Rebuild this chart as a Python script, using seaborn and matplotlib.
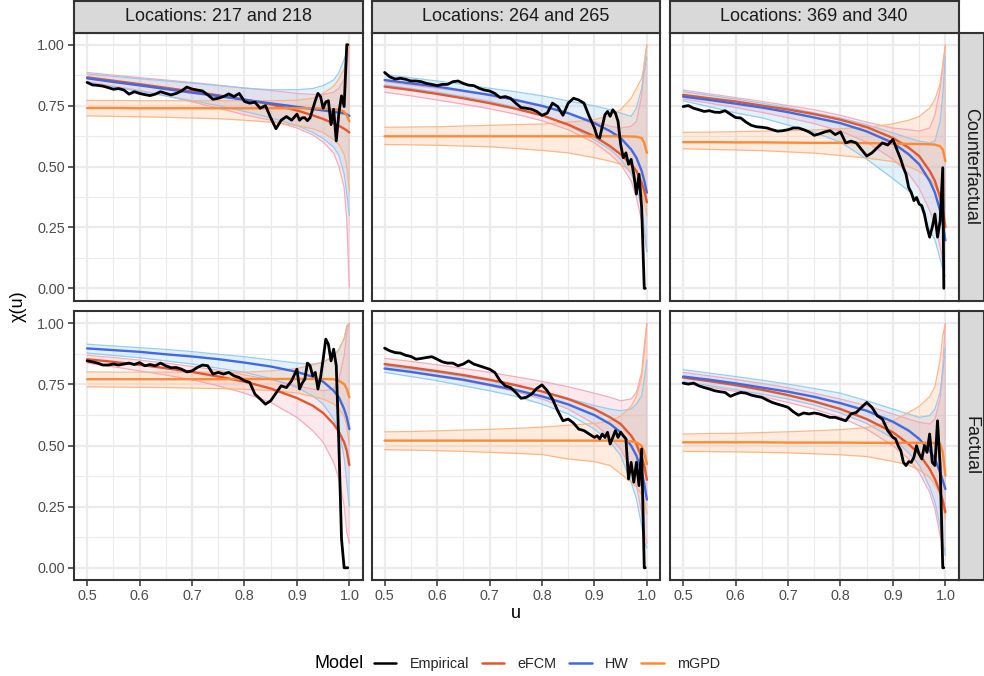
import numpy as np
import pandas as pd
import matplotlib
matplotlib.use("Agg")
import matplotlib.pyplot as plt
from matplotlib.lines import Line2D
import seaborn as sns

# ---------------- data ----------------
U_MODEL = [0.50, 0.55, 0.60, 0.65, 0.70, 0.75, 0.80, 0.85, 0.90, 0.93, 0.95,
           0.97, 0.98, 0.99, 0.995, 1.00]
U_EMP = [0.50, 0.51, 0.52, 0.53, 0.54, 0.55, 0.56, 0.57, 0.58, 0.59,
         0.60, 0.61, 0.62, 0.63, 0.64, 0.65, 0.66, 0.67, 0.68, 0.69,
         0.70, 0.71, 0.72, 0.73, 0.74, 0.75, 0.76, 0.77, 0.78, 0.79,
         0.80, 0.81, 0.82, 0.83, 0.84, 0.85, 0.86, 0.87, 0.88, 0.89,
         0.90, 0.905, 0.91, 0.915, 0.92, 0.925, 0.93, 0.935, 0.94, 0.945,
         0.95, 0.955, 0.96, 0.965, 0.97, 0.975, 0.98, 0.985, 0.99, 0.995, 0.997]

COL_LABELS = ["Locations: 217 and 218", "Locations: 264 and 265", "Locations: 369 and 340"]
ROW_LABELS = ["Counterfactual", "Factual"]
MODELS = ["Empirical", "eFCM", "HW", "mGPD"]
X_TICKS = [0.5, 0.6, 0.7, 0.8, 0.9, 1.0]
X_TICK_LABELS = ["0.5", "0.6", "0.7", "0.8", "0.9", "1.0"]
Y_TICKS = [0.0, 0.25, 0.5, 0.75, 1.0]
Y_TICK_LABELS = ["0.00", "0.25", "0.50", "0.75", "1.00"]

# --- Counterfactual, 217/218
EMP_CF_217 = [0.845, 0.835, 0.833, 0.830, 0.824, 0.817, 0.820, 0.814, 0.797, 0.807,
              0.800, 0.795, 0.791, 0.797, 0.807, 0.800, 0.794, 0.800, 0.810, 0.826,
              0.818, 0.814, 0.810, 0.794, 0.776, 0.780, 0.787, 0.798, 0.787, 0.800,
              0.767, 0.760, 0.764, 0.739, 0.750, 0.700, 0.655, 0.690, 0.705, 0.690,
              0.715, 0.690, 0.700, 0.700, 0.688, 0.700, 0.735, 0.770, 0.800, 0.787,
              0.739, 0.765, 0.770, 0.672, 0.735, 0.605, 0.720, 0.790, 0.746, 1.000, 1.000]
EFCM_CF_217 = [0.866, 0.852, 0.838, 0.823, 0.808, 0.792, 0.775, 0.755, 0.730, 0.710, 0.695, 0.677, 0.667, 0.655, 0.648, 0.640]
EFCM_CF_217_LO = [0.848, 0.830, 0.812, 0.790, 0.765, 0.740, 0.712, 0.690, 0.658, 0.630, 0.600, 0.556, 0.500, 0.414, 0.280, 0.000]
EFCM_CF_217_HI = [0.886, 0.875, 0.865, 0.855, 0.845, 0.834, 0.822, 0.812, 0.800, 0.796, 0.795, 0.805, 0.820, 0.860, 0.920, 1.000]
HW_CF_217 = [0.862, 0.847, 0.833, 0.818, 0.803, 0.789, 0.774, 0.759, 0.745, 0.736, 0.730, 0.724, 0.721, 0.718, 0.714, 0.708]
HW_CF_217_LO = [0.843, 0.826, 0.808, 0.790, 0.770, 0.750, 0.726, 0.700, 0.668, 0.640, 0.615, 0.580, 0.545, 0.470, 0.390, 0.300]
HW_CF_217_HI = [0.880, 0.870, 0.860, 0.851, 0.842, 0.832, 0.822, 0.815, 0.815, 0.820, 0.832, 0.855, 0.885, 0.940, 0.970, 1.000]
MGPD_CF_217 = [0.740, 0.740, 0.739, 0.739, 0.739, 0.739, 0.739, 0.739, 0.739, 0.739, 0.738, 0.735, 0.733, 0.725, 0.710, 0.685]
MGPD_CF_217_LO = [0.708, 0.706, 0.704, 0.702, 0.699, 0.696, 0.690, 0.682, 0.668, 0.655, 0.640, 0.610, 0.590, 0.550, 0.500, 0.400]
MGPD_CF_217_HI = [0.771, 0.771, 0.770, 0.770, 0.770, 0.770, 0.770, 0.770, 0.772, 0.780, 0.800, 0.830, 0.860, 0.900, 0.950, 1.000]

# --- Counterfactual, 264/265
EMP_CF_264 = [0.886, 0.868, 0.859, 0.862, 0.858, 0.851, 0.851, 0.848, 0.841, 0.837,
              0.832, 0.837, 0.837, 0.848, 0.851, 0.841, 0.834, 0.832, 0.821, 0.814,
              0.810, 0.800, 0.783, 0.787, 0.780, 0.760, 0.742, 0.739, 0.735, 0.726,
              0.710, 0.719, 0.760, 0.746, 0.710, 0.760, 0.780, 0.773, 0.760, 0.706,
              0.658, 0.624, 0.617, 0.665, 0.712, 0.726, 0.706, 0.733, 0.719, 0.685,
              0.590, 0.536, 0.556, 0.509, 0.529, 0.468, 0.387, 0.468, 0.332, 0.000, 0.000]
EFCM_CF_264 = [0.828, 0.814, 0.798, 0.780, 0.760, 0.737, 0.710, 0.672, 0.624, 0.583, 0.550, 0.509, 0.482, 0.434, 0.400, 0.353]
EFCM_CF_264_LO = [0.805, 0.790, 0.773, 0.756, 0.737, 0.715, 0.688, 0.651, 0.597, 0.550, 0.509, 0.441, 0.373, 0.278, 0.224, 0.150]
EFCM_CF_264_HI = [0.848, 0.834, 0.821, 0.807, 0.791, 0.771, 0.746, 0.719, 0.685, 0.665, 0.658, 0.665, 0.685, 0.790, 0.930, 1.000]
HW_CF_264 = [0.855, 0.841, 0.828, 0.811, 0.794, 0.773, 0.749, 0.719, 0.678, 0.645, 0.617, 0.570, 0.536, 0.482, 0.441, 0.393]
HW_CF_264_LO = [0.835, 0.820, 0.805, 0.787, 0.768, 0.742, 0.710, 0.670, 0.610, 0.570, 0.530, 0.470, 0.420, 0.330, 0.250, 0.150]
HW_CF_264_HI = [0.878, 0.864, 0.851, 0.837, 0.821, 0.807, 0.790, 0.769, 0.749, 0.733, 0.719, 0.706, 0.740, 0.820, 0.890, 0.950]
MGPD_CF_264 = [0.624, 0.624, 0.624, 0.624, 0.624, 0.624, 0.624, 0.624, 0.624, 0.624, 0.624, 0.623, 0.622, 0.617, 0.597, 0.556]
MGPD_CF_264_LO = [0.590, 0.589, 0.587, 0.584, 0.581, 0.574, 0.566, 0.556, 0.536, 0.522, 0.509, 0.480, 0.450, 0.400, 0.350, 0.300]
MGPD_CF_264_HI = [0.661, 0.662, 0.663, 0.666, 0.669, 0.672, 0.674, 0.682, 0.692, 0.710, 0.733, 0.780, 0.821, 0.862, 0.916, 1.000]

# --- Counterfactual, 369/340
EMP_CF_369 = [0.746, 0.750, 0.739, 0.733, 0.726, 0.729, 0.723, 0.722, 0.729, 0.715,
              0.701, 0.699, 0.682, 0.669, 0.663, 0.661, 0.658, 0.651, 0.645, 0.647,
              0.651, 0.658, 0.658, 0.651, 0.642, 0.628, 0.634, 0.642, 0.647, 0.631,
              0.642, 0.597, 0.604, 0.597, 0.570, 0.543, 0.556, 0.577, 0.597, 0.588,
              0.611, 0.583, 0.556, 0.529, 0.495, 0.468, 0.414, 0.393, 0.360, 0.373,
              0.346, 0.339, 0.305, 0.251, 0.210, 0.251, 0.305, 0.210, 0.278, 0.495, 0.000]
EFCM_CF_369 = [0.794, 0.780, 0.767, 0.750, 0.734, 0.715, 0.692, 0.662, 0.617, 0.577, 0.543, 0.482, 0.441, 0.373, 0.319, 0.251]
EFCM_CF_369_LO = [0.777, 0.760, 0.742, 0.722, 0.700, 0.676, 0.645, 0.600, 0.530, 0.470, 0.410, 0.320, 0.260, 0.170, 0.110, 0.080]
EFCM_CF_369_HI = [0.814, 0.798, 0.783, 0.767, 0.750, 0.733, 0.710, 0.682, 0.658, 0.651, 0.645, 0.658, 0.712, 0.820, 0.900, 1.000]
HW_CF_369 = [0.787, 0.773, 0.758, 0.742, 0.723, 0.701, 0.678, 0.644, 0.597, 0.550, 0.509, 0.441, 0.393, 0.319, 0.265, 0.197]
HW_CF_369_LO = [0.770, 0.745, 0.720, 0.700, 0.670, 0.640, 0.600, 0.530, 0.450, 0.400, 0.350, 0.240, 0.200, 0.120, 0.080, 0.050]
HW_CF_369_HI = [0.807, 0.792, 0.777, 0.760, 0.742, 0.720, 0.699, 0.672, 0.638, 0.617, 0.604, 0.597, 0.604, 0.685, 0.794, 0.950]
MGPD_CF_369 = [0.600, 0.600, 0.599, 0.599, 0.598, 0.597, 0.597, 0.596, 0.594, 0.593, 0.592, 0.591, 0.590, 0.583, 0.570, 0.522]
MGPD_CF_369_LO = [0.573, 0.570, 0.568, 0.565, 0.560, 0.555, 0.545, 0.535, 0.520, 0.500, 0.480, 0.450, 0.420, 0.380, 0.330, 0.280]
MGPD_CF_369_HI = [0.640, 0.641, 0.643, 0.645, 0.647, 0.650, 0.655, 0.660, 0.675, 0.690, 0.705, 0.740, 0.775, 0.840, 0.920, 1.000]

# --- Factual, 217/218
EMP_F_217 = [0.846, 0.842, 0.837, 0.829, 0.829, 0.833, 0.829, 0.833, 0.837, 0.831,
             0.839, 0.826, 0.831, 0.826, 0.837, 0.826, 0.818, 0.819, 0.812, 0.801,
             0.805, 0.819, 0.829, 0.826, 0.792, 0.799, 0.792, 0.799, 0.785, 0.778,
             0.765, 0.758, 0.710, 0.690, 0.669, 0.683, 0.714, 0.744, 0.737, 0.765,
             0.812, 0.731, 0.755, 0.771, 0.837, 0.826, 0.785, 0.799, 0.731, 0.778,
             0.853, 0.935, 0.914, 0.846, 0.894, 0.826, 0.500, 0.118, 0.000, 0.000, 0.000]
EFCM_F_217 = [0.853, 0.842, 0.830, 0.816, 0.801, 0.782, 0.761, 0.733, 0.694, 0.663, 0.633, 0.588, 0.556, 0.513, 0.479, 0.420]
EFCM_F_217_LO = [0.837, 0.822, 0.805, 0.788, 0.769, 0.744, 0.714, 0.676, 0.615, 0.561, 0.513, 0.431, 0.363, 0.254, 0.146, 0.100]
EFCM_F_217_HI = [0.869, 0.860, 0.849, 0.837, 0.823, 0.808, 0.789, 0.769, 0.744, 0.731, 0.724, 0.731, 0.771, 0.867, 0.962, 1.000]
HW_F_217 = [0.897, 0.890, 0.883, 0.873, 0.864, 0.853, 0.839, 0.823, 0.801, 0.781, 0.761, 0.724, 0.697, 0.649, 0.615, 0.567]
HW_F_217_LO = [0.878, 0.868, 0.859, 0.846, 0.833, 0.816, 0.799, 0.774, 0.737, 0.703, 0.669, 0.608, 0.567, 0.450, 0.350, 0.250]
HW_F_217_HI = [0.914, 0.907, 0.900, 0.893, 0.884, 0.873, 0.863, 0.850, 0.837, 0.833, 0.839, 0.867, 0.894, 0.935, 0.990, 1.000]
MGPD_F_217 = [0.771, 0.771, 0.771, 0.771, 0.771, 0.771, 0.772, 0.772, 0.772, 0.772, 0.772, 0.771, 0.765, 0.751, 0.731, 0.697]
MGPD_F_217_LO = [0.740, 0.739, 0.738, 0.737, 0.735, 0.733, 0.730, 0.725, 0.715, 0.700, 0.690, 0.670, 0.650, 0.620, 0.580, 0.500]
MGPD_F_217_HI = [0.801, 0.800, 0.800, 0.800, 0.800, 0.800, 0.800, 0.805, 0.815, 0.830, 0.840, 0.865, 0.890, 0.940, 0.980, 1.000]

# --- Factual, 264/265
EMP_F_264 = [0.898, 0.887, 0.880, 0.878, 0.869, 0.864, 0.853, 0.856, 0.860, 0.863,
             0.853, 0.842, 0.837, 0.837, 0.826, 0.833, 0.846, 0.833, 0.826, 0.819,
             0.812, 0.799, 0.765, 0.744, 0.737, 0.717, 0.693, 0.697, 0.710, 0.733,
             0.748, 0.724, 0.690, 0.642, 0.601, 0.608, 0.592, 0.567, 0.561, 0.547,
             0.533, 0.540, 0.527, 0.547, 0.533, 0.554, 0.506, 0.533, 0.561, 0.533,
             0.554, 0.540, 0.527, 0.363, 0.431, 0.350, 0.431, 0.336, 0.486, 0.000, 0.000]
EFCM_F_264 = [0.833, 0.819, 0.804, 0.788, 0.769, 0.747, 0.721, 0.690, 0.649, 0.615, 0.588, 0.540, 0.506, 0.452, 0.418, 0.360]
EFCM_F_264_LO = [0.812, 0.799, 0.782, 0.765, 0.744, 0.720, 0.690, 0.649, 0.588, 0.533, 0.486, 0.404, 0.336, 0.227, 0.146, 0.100]
EFCM_F_264_HI = [0.856, 0.844, 0.830, 0.815, 0.799, 0.781, 0.762, 0.740, 0.714, 0.697, 0.683, 0.690, 0.717, 0.799, 0.907, 1.000]
HW_F_264 = [0.815, 0.801, 0.785, 0.769, 0.748, 0.727, 0.701, 0.668, 0.624, 0.588, 0.554, 0.499, 0.459, 0.390, 0.343, 0.279]
HW_F_264_LO = [0.799, 0.782, 0.765, 0.744, 0.724, 0.701, 0.669, 0.629, 0.567, 0.513, 0.459, 0.350, 0.282, 0.173, 0.105, 0.080]
HW_F_264_HI = [0.826, 0.812, 0.799, 0.782, 0.765, 0.744, 0.722, 0.693, 0.663, 0.649, 0.642, 0.649, 0.669, 0.703, 0.771, 0.850]
MGPD_F_264 = [0.520, 0.520, 0.520, 0.520, 0.520, 0.520, 0.520, 0.520, 0.520, 0.520, 0.519, 0.517, 0.513, 0.499, 0.472, 0.424]
MGPD_F_264_LO = [0.483, 0.481, 0.479, 0.476, 0.472, 0.468, 0.463, 0.445, 0.434, 0.418, 0.384, 0.350, 0.330, 0.300, 0.270, 0.220]
MGPD_F_264_HI = [0.556, 0.557, 0.560, 0.563, 0.566, 0.570, 0.575, 0.583, 0.590, 0.600, 0.620, 0.660, 0.700, 0.780, 0.880, 1.000]

# --- Factual, 369/340
EMP_F_369 = [0.755, 0.751, 0.755, 0.744, 0.737, 0.731, 0.724, 0.720, 0.717, 0.701,
             0.710, 0.717, 0.714, 0.706, 0.701, 0.697, 0.686, 0.676, 0.669, 0.663,
             0.656, 0.638, 0.624, 0.633, 0.629, 0.633, 0.629, 0.622, 0.615, 0.615,
             0.608, 0.601, 0.629, 0.635, 0.656, 0.676, 0.656, 0.622, 0.608, 0.561,
             0.533, 0.527, 0.499, 0.479, 0.431, 0.418, 0.434, 0.431, 0.452, 0.499,
             0.465, 0.445, 0.499, 0.472, 0.547, 0.431, 0.418, 0.601, 0.418, 0.000, 0.000]
EFCM_F_369 = [0.778, 0.763, 0.747, 0.728, 0.706, 0.680, 0.649, 0.608, 0.554, 0.506, 0.465, 0.404, 0.363, 0.309, 0.275, 0.227]
EFCM_F_369_LO = [0.755, 0.739, 0.721, 0.701, 0.676, 0.649, 0.615, 0.567, 0.499, 0.445, 0.390, 0.309, 0.241, 0.132, 0.091, 0.070]
EFCM_F_369_HI = [0.799, 0.785, 0.770, 0.754, 0.736, 0.714, 0.690, 0.663, 0.629, 0.608, 0.595, 0.588, 0.608, 0.690, 0.826, 1.000]
HW_F_369 = [0.782, 0.769, 0.754, 0.737, 0.720, 0.699, 0.673, 0.642, 0.597, 0.561, 0.527, 0.479, 0.445, 0.390, 0.356, 0.322]
HW_F_369_LO = [0.760, 0.745, 0.728, 0.710, 0.690, 0.665, 0.633, 0.590, 0.530, 0.470, 0.420, 0.330, 0.270, 0.170, 0.100, 0.050]
HW_F_369_HI = [0.810, 0.796, 0.782, 0.767, 0.751, 0.733, 0.714, 0.683, 0.649, 0.629, 0.615, 0.622, 0.649, 0.717, 0.799, 0.900]
MGPD_F_369 = [0.513, 0.513, 0.513, 0.513, 0.512, 0.512, 0.512, 0.511, 0.511, 0.511, 0.511, 0.511, 0.510, 0.506, 0.472, 0.377]
MGPD_F_369_LO = [0.476, 0.475, 0.474, 0.472, 0.470, 0.466, 0.462, 0.455, 0.435, 0.420, 0.400, 0.370, 0.340, 0.300, 0.260, 0.200]
MGPD_F_369_HI = [0.547, 0.549, 0.550, 0.553, 0.556, 0.560, 0.565, 0.573, 0.600, 0.635, 0.660, 0.700, 0.740, 0.850, 0.950, 1.000]

PANELS = [
    [dict(emp=EMP_CF_217, eFCM=(EFCM_CF_217, EFCM_CF_217_LO, EFCM_CF_217_HI),
          HW=(HW_CF_217, HW_CF_217_LO, HW_CF_217_HI), mGPD=(MGPD_CF_217, MGPD_CF_217_LO, MGPD_CF_217_HI)),
     dict(emp=EMP_CF_264, eFCM=(EFCM_CF_264, EFCM_CF_264_LO, EFCM_CF_264_HI),
          HW=(HW_CF_264, HW_CF_264_LO, HW_CF_264_HI), mGPD=(MGPD_CF_264, MGPD_CF_264_LO, MGPD_CF_264_HI)),
     dict(emp=EMP_CF_369, eFCM=(EFCM_CF_369, EFCM_CF_369_LO, EFCM_CF_369_HI),
          HW=(HW_CF_369, HW_CF_369_LO, HW_CF_369_HI), mGPD=(MGPD_CF_369, MGPD_CF_369_LO, MGPD_CF_369_HI))],
    [dict(emp=EMP_F_217, eFCM=(EFCM_F_217, EFCM_F_217_LO, EFCM_F_217_HI),
          HW=(HW_F_217, HW_F_217_LO, HW_F_217_HI), mGPD=(MGPD_F_217, MGPD_F_217_LO, MGPD_F_217_HI)),
     dict(emp=EMP_F_264, eFCM=(EFCM_F_264, EFCM_F_264_LO, EFCM_F_264_HI),
          HW=(HW_F_264, HW_F_264_LO, HW_F_264_HI), mGPD=(MGPD_F_264, MGPD_F_264_LO, MGPD_F_264_HI)),
     dict(emp=EMP_F_369, eFCM=(EFCM_F_369, EFCM_F_369_LO, EFCM_F_369_HI),
          HW=(HW_F_369, HW_F_369_LO, HW_F_369_HI), mGPD=(MGPD_F_369, MGPD_F_369_LO, MGPD_F_369_HI))],
]

# ---------------- style ----------------
LINE_COLORS = {"Empirical": "#000000", "eFCM": "#E4572E", "HW": "#4169E1", "mGPD": "#FF8A33"}
RIBBON_COLORS = {"eFCM": "#F4A3B6", "HW": "#8CC8F0", "mGPD": "#FFB07A"}

sns.set_theme(style="white")
plt.rcParams["font.family"] = ["Liberation Sans", "DejaVu Sans"]

W, H = 984, 676
fig = plt.figure(figsize=(W / 100, H / 100), dpi=100)
fig.patch.set_facecolor("white")


def rect(x0, y0, x1, y1):
    return [x0 / W, 1 - y1 / H, (x1 - x0) / W, (y1 - y0) / H]


COLS = [(74, 362.5), (371.5, 660), (670, 958.5)]
ROWS = [(32.5, 300.5), (311, 580)]
BORDER = "#333333"
GRID = "#EBEBEB"

for r, (y0, y1) in enumerate(ROWS):
    for c, (x0, x1) in enumerate(COLS):
        ax = fig.add_axes(rect(x0, y0, x1, y1))
        ax.set_facecolor("white")
        p = PANELS[r][c]
        # ribbons
        for m in ["eFCM", "HW", "mGPD"]:
            mid, lo, hi = p[m]
            col = RIBBON_COLORS[m]
            ax.fill_between(U_MODEL, lo, hi, color=col, alpha=0.24, linewidth=0, zorder=2)
            ax.plot(U_MODEL, lo, color=col, lw=0.9, alpha=0.9, zorder=2.1)
            ax.plot(U_MODEL, hi, color=col, lw=0.9, alpha=0.9, zorder=2.1)
        # model lines
        rows = []
        for m in ["eFCM", "HW", "mGPD"]:
            for u, v in zip(U_MODEL, p[m][0]):
                rows.append((u, v, m))
        dfm = pd.DataFrame(rows, columns=["u", "chi", "Model"])
        sns.lineplot(data=dfm, x="u", y="chi", hue="Model", palette=LINE_COLORS,
                     hue_order=["eFCM", "HW", "mGPD"], estimator=None, sort=False,
                     linewidth=1.7, legend=False, ax=ax, zorder=3)
        dfe = pd.DataFrame({"u": U_EMP, "chi": p["emp"], "Model": "Empirical"})
        sns.lineplot(data=dfe, x="u", y="chi", color="black", estimator=None, sort=False,
                     linewidth=2.0, legend=False, ax=ax, zorder=4)

        ax.set_xlim(0.475, 1.025)
        ax.set_ylim(-0.05, 1.05)
        ax.set_xticks(X_TICKS)
        ax.set_xticks([0.55, 0.65, 0.75, 0.85, 0.95], minor=True)
        ax.set_yticks(Y_TICKS)
        ax.set_yticks([0.125, 0.375, 0.625, 0.875], minor=True)
        ax.set_xticklabels(X_TICK_LABELS)
        ax.set_yticklabels(Y_TICK_LABELS)
        ax.grid(which="major", color=GRID, lw=1.6)
        ax.grid(which="minor", color=GRID, lw=0.8)
        ax.set_axisbelow(True)
        ax.set_xlabel("")
        ax.set_ylabel("")
        ax.tick_params(which="minor", length=0)
        ax.tick_params(which="major", direction="out", length=4, width=1.1, color=BORDER,
                       labelsize=10.4, labelcolor="#4D4D4D", pad=2.6)
        ax.tick_params(axis="x", bottom=(r == 1), labelbottom=(r == 1), top=False)
        ax.tick_params(axis="y", left=(c == 0), labelleft=(c == 0), right=False)
        for s in ax.spines.values():
            s.set_visible(True)
            s.set_color(BORDER)
            s.set_linewidth(1.5)
            s.set_zorder(10)

# top strips
for c, (x0, x1) in enumerate(COLS):
    sax = fig.add_axes(rect(x0, 1.0, x1, 32.5))
    sax.set_facecolor("#D9D9D9")
    sax.set_xticks([])
    sax.set_yticks([])
    for s in sax.spines.values():
        s.set_color(BORDER)
        s.set_linewidth(1.5)
    sax.text(0.5, 0.5, COL_LABELS[c], ha="center", va="center", fontsize=13,
             color="#1A1A1A", transform=sax.transAxes)

# right strips
for r, (y0, y1) in enumerate(ROWS):
    sax = fig.add_axes(rect(958.5, y0, 983.5, y1))
    sax.set_facecolor("#D9D9D9")
    sax.set_xticks([])
    sax.set_yticks([])
    for s in sax.spines.values():
        s.set_color(BORDER)
        s.set_linewidth(1.5)
    sax.text(0.5, 0.5, ROW_LABELS[r], ha="center", va="center", fontsize=13,
             rotation=-90, color="#1A1A1A", transform=sax.transAxes)

# axis titles
fig.text(516 / W, 1 - 614 / H, "u", ha="center", va="center", fontsize=13, color="black")
fig.text(18 / W, 1 - 306 / H, "χ(u)", ha="center", va="center", fontsize=13,
         rotation=90, color="black")

# legend
fig.text(315 / W, 1 - 664 / H, "Model", ha="left", va="center", fontsize=13, color="black")
handles = [Line2D([0], [0], color=LINE_COLORS[m], lw=1.8) for m in MODELS]
fig.legend(handles, MODELS, loc="center left", bbox_to_anchor=(374 / W, 1 - 664 / H),
           ncol=4, frameon=False, fontsize=10.4, handlelength=1.55, handletextpad=0.9,
           columnspacing=0.9, borderpad=0, borderaxespad=0)

fig.savefig("out.png", dpi=100, facecolor="white")
